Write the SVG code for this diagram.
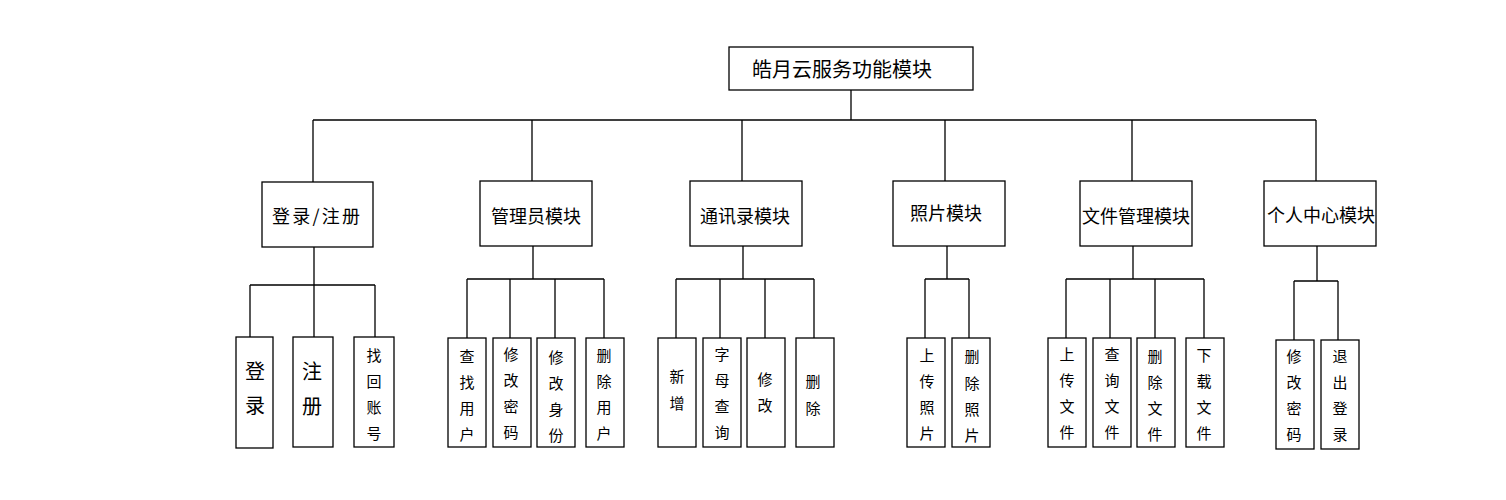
<svg xmlns="http://www.w3.org/2000/svg" width="1506" height="500" viewBox="0 0 1506 500">
<style>
rect{fill:#fff;stroke:#000;stroke-width:1.3}
.c{fill:none;stroke:#000;stroke-width:1.3}
text{font-family:"Noto Sans CJK SC","Noto Sans",sans-serif;fill:#000}
.r{font-size:20px}
.m{font-size:18px;text-anchor:middle}
.l{font-size:15px;text-anchor:middle}
.b{font-size:20px;text-anchor:middle}
</style>
<rect x="0" y="0" width="1506" height="500" style="stroke:none"/>
<g id="connectors">
<path class="c" d="M851,90V120M313,120H1316M313,120V182M532,120V181M742,120V181M945,120V181M1132,120V181M1316,120V181"/>
<path class="c" d="M314,247V285M250,285H375M250,285V337M314,285V337M375,285V337"/>
<path class="c" d="M533,246V279M467,279H604M467,279V338M510,279V338M555,279V338M604,279V338"/>
<path class="c" d="M743,246V279M676,279H814M676,279V338M720,279V338M765,279V338M814,279V338"/>
<path class="c" d="M947,246V279M925,279H969M925,279V338M969,279V338"/>
<path class="c" d="M1133,246V279M1066,279H1204M1066,279V338M1110,279V338M1155,279V338M1204,279V338"/>
<path class="c" d="M1317,246V281M1294,281H1338M1294,281V340M1338,281V340"/>
</g>
<g id="root"><rect x="729" y="47" width="244" height="43"/><text class="r" x="752" y="77">皓月云服务功能模块</text></g>
<g id="login"><rect x="262" y="182" width="111" height="65"/><text class="m" x="316" y="223" textLength="88" lengthAdjust="spacing">登录/注册</text></g>
<g id="admin"><rect x="480" y="181" width="112" height="65"/><text class="m" x="536" y="223">管理员模块</text></g>
<g id="contacts"><rect x="690" y="181" width="112" height="65"/><text class="m" x="745" y="223">通讯录模块</text></g>
<g id="photos"><rect x="893" y="181" width="112" height="65"/><text class="m" x="946" y="220">照片模块</text></g>
<g id="files"><rect x="1080" y="181" width="112" height="65"/><text class="m" x="1136" y="223">文件管理模块</text></g>
<g id="personal"><rect x="1264" y="181" width="112" height="65"/><text class="m" x="1321" y="222">个人中心模块</text></g>

<g id="leaf-login"><rect x="236" y="337" width="37" height="111"/><text class="b" x="255" y="379"><tspan x="255">登</tspan><tspan x="255" dy="34">录</tspan></text></g>
<g id="leaf-register"><rect x="293" y="337" width="40" height="110"/><text class="b" x="312" y="379"><tspan x="312">注</tspan><tspan x="312" dy="35">册</tspan></text></g>
<g id="leaf-recover"><rect x="354" y="337" width="40" height="110"/><text class="l" x="374" y="361"><tspan x="374">找</tspan><tspan x="374" dy="26">回</tspan><tspan x="374" dy="26">账</tspan><tspan x="374" dy="26">号</tspan></text></g>

<g id="leaf-finduser"><rect x="448" y="338" width="38" height="109"/><text class="l" x="467" y="362"><tspan x="467">查</tspan><tspan x="467" dy="26">找</tspan><tspan x="467" dy="26">用</tspan><tspan x="467" dy="26">户</tspan></text></g>
<g id="leaf-adminpwd"><rect x="493" y="338" width="38" height="109"/><text class="l" x="511" y="360"><tspan x="511">修</tspan><tspan x="511" dy="26">改</tspan><tspan x="511" dy="26">密</tspan><tspan x="511" dy="26">码</tspan></text></g>
<g id="leaf-role"><rect x="537" y="338" width="38" height="109"/><text class="l" x="556" y="363"><tspan x="556">修</tspan><tspan x="556" dy="26">改</tspan><tspan x="556" dy="26">身</tspan><tspan x="556" dy="26">份</tspan></text></g>
<g id="leaf-deluser"><rect x="586" y="338" width="38" height="109"/><text class="l" x="604" y="361"><tspan x="604">删</tspan><tspan x="604" dy="26">除</tspan><tspan x="604" dy="26">用</tspan><tspan x="604" dy="26">户</tspan></text></g>

<g id="leaf-add"><rect x="658" y="338" width="38" height="109"/><text class="l" x="677" y="382"><tspan x="677">新</tspan><tspan x="677" dy="27">增</tspan></text></g>
<g id="leaf-alpha"><rect x="703" y="338" width="38" height="109"/><text class="l" x="722" y="360"><tspan x="722">字</tspan><tspan x="722" dy="26">母</tspan><tspan x="722" dy="26">查</tspan><tspan x="722" dy="26">询</tspan></text></g>
<g id="leaf-edit"><rect x="747" y="338" width="38" height="109"/><text class="l" x="765" y="385"><tspan x="765">修</tspan><tspan x="765" dy="26">改</tspan></text></g>
<g id="leaf-del"><rect x="796" y="338" width="38" height="109"/><text class="l" x="813" y="387"><tspan x="813">删</tspan><tspan x="813" dy="27">除</tspan></text></g>

<g id="leaf-uploadphoto"><rect x="907" y="338" width="38" height="109"/><text class="l" x="927" y="361"><tspan x="927">上</tspan><tspan x="927" dy="26">传</tspan><tspan x="927" dy="26">照</tspan><tspan x="927" dy="26">片</tspan></text></g>
<g id="leaf-delphoto"><rect x="952" y="338" width="38" height="109"/><text class="l" x="972" y="362"><tspan x="972">删</tspan><tspan x="972" dy="27">除</tspan><tspan x="972" dy="26">照</tspan><tspan x="972" dy="26">片</tspan></text></g>

<g id="leaf-uploadfile"><rect x="1048" y="338" width="38" height="109"/><text class="l" x="1067" y="360"><tspan x="1067">上</tspan><tspan x="1067" dy="26">传</tspan><tspan x="1067" dy="26">文</tspan><tspan x="1067" dy="26">件</tspan></text></g>
<g id="leaf-queryfile"><rect x="1093" y="338" width="38" height="109"/><text class="l" x="1112" y="360"><tspan x="1112">查</tspan><tspan x="1112" dy="26">询</tspan><tspan x="1112" dy="26">文</tspan><tspan x="1112" dy="26">件</tspan></text></g>
<g id="leaf-delfile"><rect x="1137" y="338" width="38" height="109"/><text class="l" x="1155" y="362"><tspan x="1155">删</tspan><tspan x="1155" dy="26">除</tspan><tspan x="1155" dy="26">文</tspan><tspan x="1155" dy="26">件</tspan></text></g>
<g id="leaf-download"><rect x="1186" y="338" width="38" height="109"/><text class="l" x="1204" y="361"><tspan x="1204">下</tspan><tspan x="1204" dy="26">载</tspan><tspan x="1204" dy="26">文</tspan><tspan x="1204" dy="26">件</tspan></text></g>

<g id="leaf-mypwd"><rect x="1276" y="340" width="38" height="109"/><text class="l" x="1294" y="362"><tspan x="1294">修</tspan><tspan x="1294" dy="26">改</tspan><tspan x="1294" dy="26">密</tspan><tspan x="1294" dy="26">码</tspan></text></g>
<g id="leaf-logout"><rect x="1321" y="340" width="38" height="109"/><text class="l" x="1340" y="362"><tspan x="1340">退</tspan><tspan x="1340" dy="26">出</tspan><tspan x="1340" dy="26">登</tspan><tspan x="1340" dy="26">录</tspan></text></g>
</svg>
